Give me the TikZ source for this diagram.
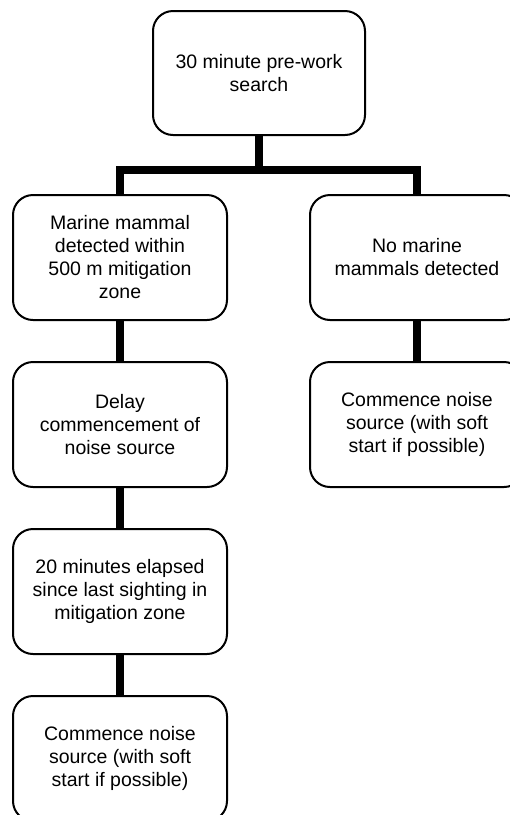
\documentclass[tikz,border=0pt]{standalone}
\usepackage{fontspec}
\setmainfont{Liberation Sans}
\usetikzlibrary{positioning}
\tikzset{stepnode/.style={rectangle, rounded corners=20pt, draw=black, line width=2pt, fill=white, minimum width=214pt, minimum height=125pt, inner sep=0pt, align=center, font=\fontsize{19.5pt}{23pt}\selectfont},
linkline/.style={draw=black, line width=8pt}}

\begin{document}
\begin{tikzpicture}[
        x=1pt, y=1pt,
        node distance=40pt
    ]
        % Frame
        \clip (0pt, 0pt) rectangle (510pt, -815pt);
        % Boxes
        \node[stepnode, minimum width=212pt, minimum height=124pt] (search) at (259pt, -73pt) {30 minute pre-work\\search};
        \node[stepnode] (detected) at (120pt, -257.5pt) {Marine mammal\\detected within\\500 m mitigation\\zone};
        \node[stepnode] (nodetect) at (417pt, -257.5pt) {No marine\\mammals detected};
        \node[stepnode, below=of detected] (delay) {Delay\\commencement of\\noise source};
        \node[stepnode, below=of delay] (elapsed) {20 minutes elapsed\\since last sighting in\\mitigation zone};
        \node[stepnode, below=of elapsed] (commenceleft) {Commence noise\\source (with soft\\start if possible)};
        \node[stepnode, below=of nodetect] (commenceright) {Commence noise\\source (with soft\\start if possible)};
        % Links
        \coordinate (bar) at (259pt, -170pt);
        \draw[linkline] (search.south) -- (bar);
        \draw[linkline] (detected.north) |- (bar) -| (nodetect.north);
        \draw[linkline] (detected.south) -- (delay.north);
        \draw[linkline] (delay.south) -- (elapsed.north);
        \draw[linkline] (elapsed.south) -- (commenceleft.north);
        \draw[linkline] (nodetect.south) -- (commenceright.north);
    \end{tikzpicture}
\end{document}
